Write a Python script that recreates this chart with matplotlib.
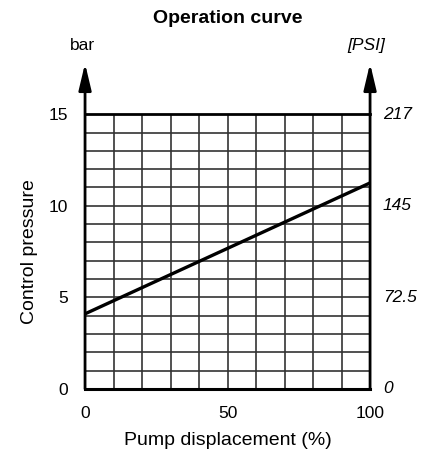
import numpy as np
import matplotlib.pyplot as plt

plt.rcParams['font.family'] = ['Liberation Sans', 'DejaVu Sans']

# operating line: control pressure vs pump displacement
displacement = [0, 100]
pressure_bar = [4.1, 11.25]

x_ticks = [0, 50, 100]
bar_ticks = [0, 5, 10, 15]
psi_labels = ["0", "72.5", "145", "217"]

fig = plt.figure(figsize=(4.21, 4.57), dpi=100)
ax = fig.add_axes([0.202, 0.149, 0.677, 0.601])

ax.set_xlim(0, 100)
ax.set_ylim(0, 15)

# grid: every 10 % and every 1 bar
for xv in np.arange(0, 101, 10):
    ax.axvline(xv, color="#333333", lw=1.2, zorder=1)
for yv in np.arange(0, 16, 1):
    ax.axhline(yv, color="#333333", lw=1.2, zorder=1)

ax.plot(displacement, pressure_bar, color="black", lw=2.4, zorder=3,
        solid_capstyle="butt")

for s in ax.spines.values():
    s.set_visible(False)
ax.plot([0, 100], [0, 0], color="black", lw=2.2, clip_on=False, zorder=4)
ax.plot([0, 100], [15, 15], color="black", lw=2.0, clip_on=False, zorder=4)

# vertical axes with arrow heads
for xa in (0, 1):
    ax.annotate("", xy=(xa, 1.185), xytext=(xa, 0), xycoords="axes fraction",
                arrowprops=dict(arrowstyle="-|>,head_width=0.38,head_length=1.6",
                                color="black", lw=2.0, shrinkA=0, shrinkB=0))

ax.tick_params(length=0, labelsize=12.5, pad=12)
ax.set_xticks(x_ticks)
ax.set_yticks(bar_ticks)
ax.tick_params(axis="y", pad=12)

for yv, lab in zip(bar_ticks, psi_labels):
    ax.text(1.045, yv / 15, lab, transform=ax.transAxes, ha="left",
            va="center", fontsize=12.5, style="italic")

ax.text(-0.01, 1.25, "bar", transform=ax.transAxes, ha="center",
        va="center", fontsize=12.5)
ax.text(0.985, 1.25, "[PSI]", transform=ax.transAxes, ha="center",
        va="center", fontsize=12.5, style="italic")

ax.set_xlabel("Pump displacement (%)", fontsize=14, labelpad=8)
ax.set_ylabel("Control pressure", fontsize=14, labelpad=8)
fig.text(0.54, 0.96, "Operation curve", ha="center", va="center",
         fontsize=14, fontweight="bold")

fig.savefig("out.png", dpi=100)
